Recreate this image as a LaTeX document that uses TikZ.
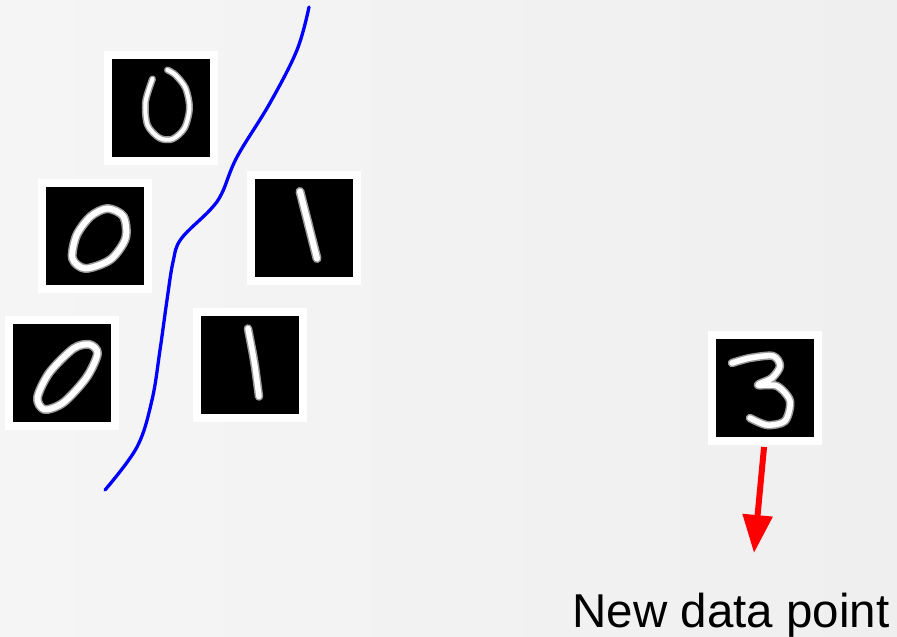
\documentclass[tikz,border=0pt]{standalone}
\usepackage{fontspec}
\newfontfamily\labelfont{Liberation Sans}
\usepackage{tikz}
\usetikzlibrary{arrows.meta,positioning}
\definecolor{bgleft}{HTML}{F5F5F5}
\definecolor{bgright}{HTML}{EFEFEF}
\definecolor{glow}{HTML}{9A9A9A}

\begin{document}
\begin{tikzpicture}[x=1pt,y=-1pt,
  digitbox/.style={fill=black, minimum size=98pt, inner sep=0pt, outer sep=0pt,
    preaction={draw=white, line width=16pt}},
  digitpen/.style={draw=white, line width=#1, line cap=round, line join=round,
    preaction={draw=glow, line width=#1+3pt, line cap=round, line join=round}},
  digitpen/.default=4pt,
  border/.style={draw=blue, line width=3.3pt, line cap=round},
  newarrow/.style={draw=red, line width=6pt, -{Triangle[width=29pt,length=38pt]}}]
\useasboundingbox (0,0) rectangle (897,637);
\fill[left color=bgleft, right color=bgright] (0,0) rectangle (897,637);
% Drawing the training images
\node[digitbox] (zeroA) at (160.5,108) {};
\node[digitbox] (zeroB) at (94.5,235.5) {};
\node[digitbox] (oneA) at (304,227.5) {};
\node[digitbox] (zeroC) at (61.5,372.5) {};
\node[digitbox] (oneB) at (250,364.5) {};
% Done with training images; drawing the strokes
\begin{scope}[shift={(zeroA.center)}]
\draw[digitpen=4pt] plot[smooth] coordinates {(-8,-29) (-15,-6) (-13,17) (-1,30) (12,31) (24,20) (29,0) (25,-20) (15,-33) (7,-38)};
\end{scope}
\begin{scope}[shift={(zeroB.center)}]
\draw[digitpen=6pt] plot[smooth cycle] coordinates {(13,-27) (29,-19) (31,3) (16,24) (-9,33) (-22,23) (-18,0) (-4,-19)};
\end{scope}
\begin{scope}[shift={(oneA.center)}]
\draw[digitpen=6pt] (-4,-36) -- (13,31);
\end{scope}
\begin{scope}[shift={(zeroC.center)}]
\draw[digitpen=6pt] plot[smooth cycle] coordinates {(28,-28) (36,-19) (25,5) (2,30) (-17,37) (-24,25) (-12,0) (12,-24)};
\end{scope}
\begin{scope}[shift={(oneB.center)}]
\draw[digitpen=5.5pt] plot[smooth] coordinates {(-2,-36) (3,-10) (5,2) (9,32)};
\end{scope}
% Drawing the decision boundary
\draw[border] plot[smooth, tension=0.6] coordinates {(309,7) (297,50) (270,103) (237,157) (222,193) (210,210) (181,239) (173,262) (167,300) (160,350) (152,400) (137,447) (105,490)};
% Drawing the new data point
\node[digitbox] (three) at (765,388) {};
\begin{scope}[shift={(three.center)}]
\draw[digitpen=5.5pt] plot[smooth] coordinates {(-33,-25) (-15,-30) (8,-32) (15,-22) (7,-10) (-7,-3) (12,-2) (25,13) (20,33) (2,37) (-15,30)};
\end{scope}
\node[anchor=base, inner sep=0pt] (label) at (731,627) {\labelfont\fontsize{47.5}{52}\selectfont New data point};
\coordinate (tip) at (754,553);
\draw[newarrow, shorten <=10pt] (three.south) -- (tip);
\end{tikzpicture}
\end{document}
